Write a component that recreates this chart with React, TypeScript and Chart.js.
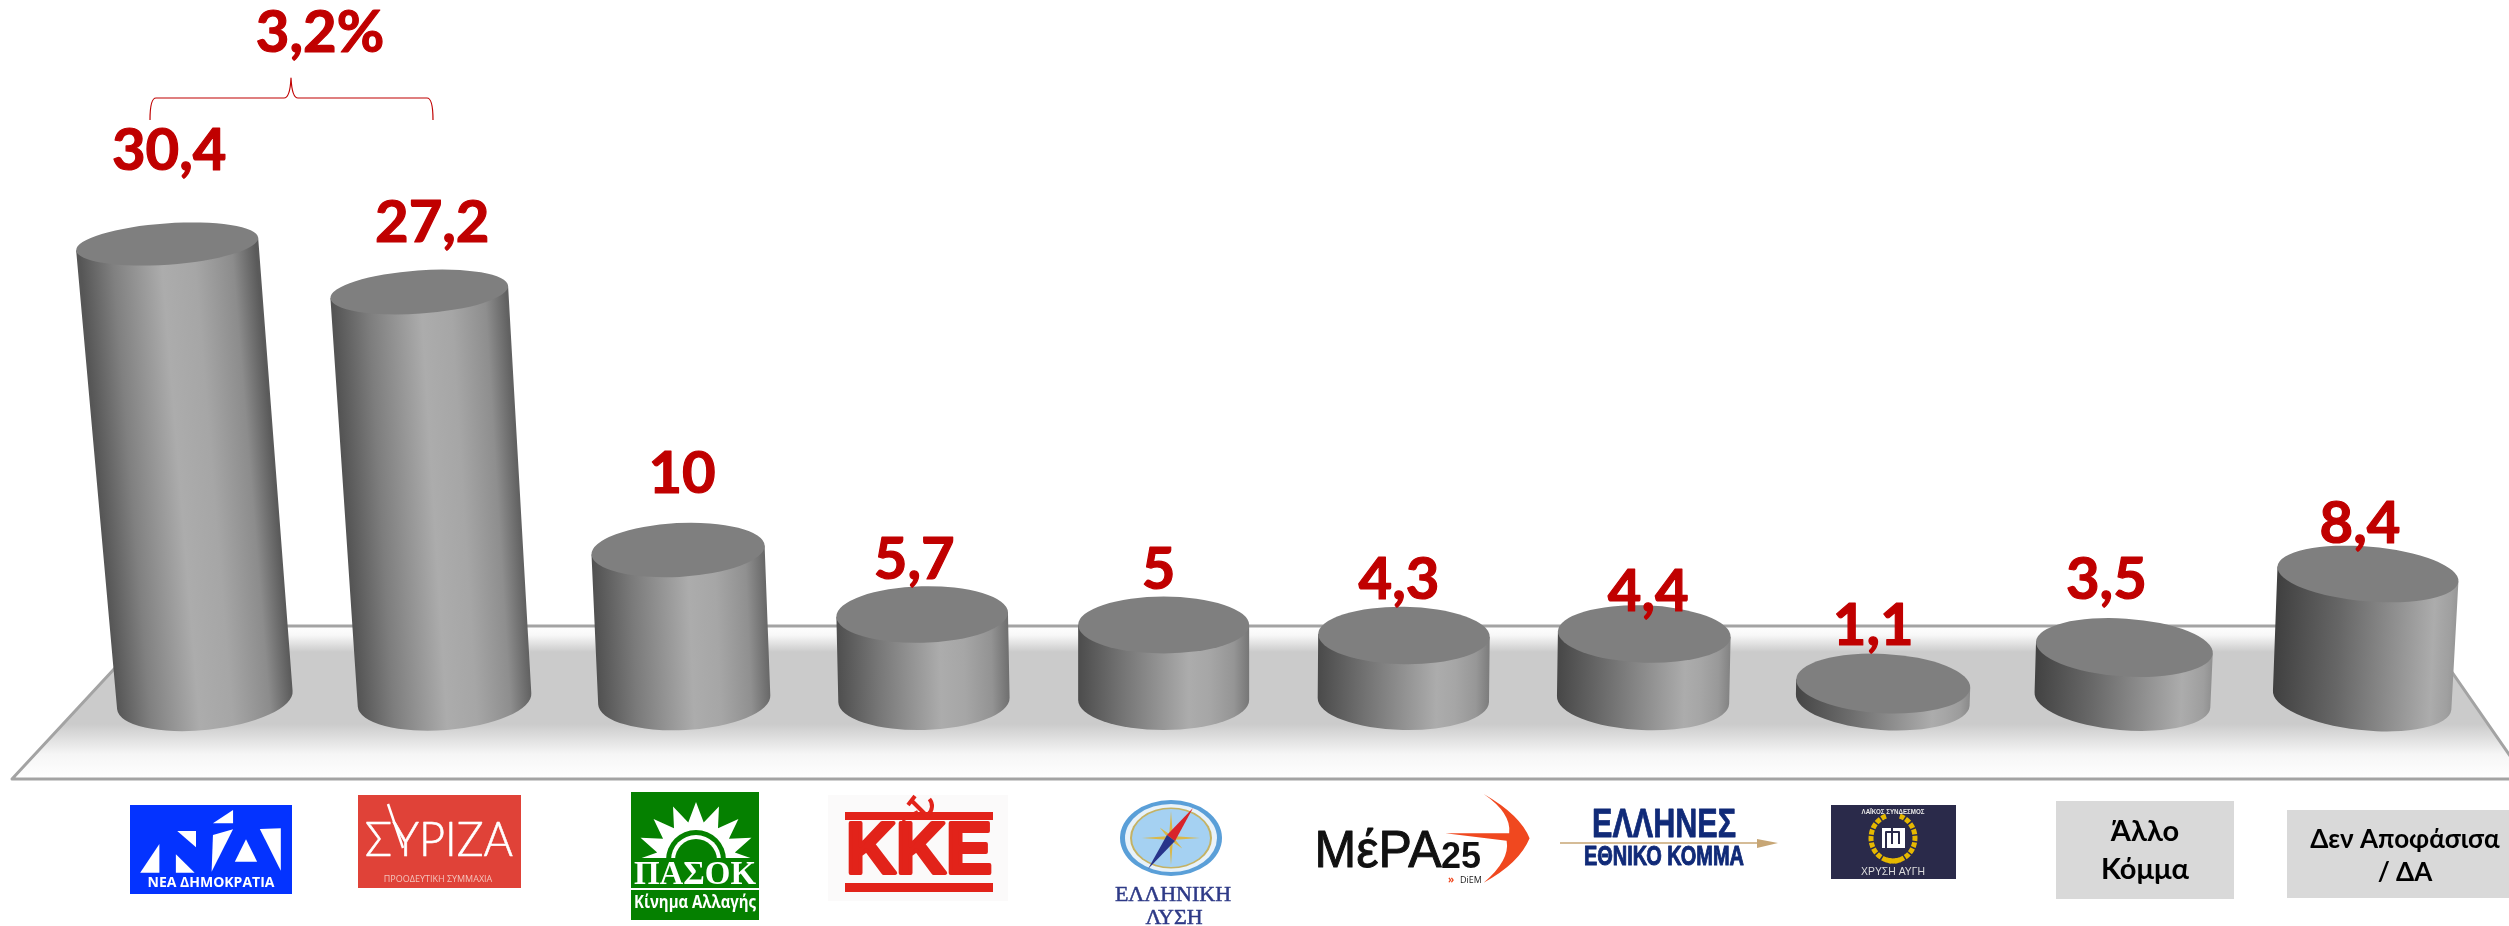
import React, { useEffect, useRef } from "react";
import { Chart, registerables } from "chart.js";

Chart.register(...registerables);

const categories = ["ΝΕΑ ΔΗΜΟΚΡΑΤΙΑ", "ΣΥΡΙΖΑ", "ΠΑΣΟΚ", "ΚΚΕ", "ΕΛΛΗΝΙΚΗ ΛΥΣΗ", "ΜέΡΑ25", "ΕΛΛΗΝΕΣ", "ΧΡΥΣΗ ΑΥΓΗ", "Άλλο Κόμμα", "Δεν Αποφάσισα / ΔΑ"];
const seriesValues = [30.4, 27.2, 10, 5.7, 5, 4.3, 4.4, 1.1, 3.5, 8.4];
const valueLabels = ["30,4", "27,2", "10", "5,7", "5", "4,3", "4,4", "1,1", "3,5", "8,4"];
const gapLabel = "3,2%";

const RED = "#C00000";
const LABEL_FONT = "bold 58px Lato";
// Hand placement of the value labels, relative to the top of each bar.
const labelNudgeX = [2, 13, 4, -8, -5, -5, 4, -10, -18, -8];
const labelNudgeY = [-93, -69, -76, -54, -55, -55, -42, -57, -67, -50];

type Ctx = CanvasRenderingContext2D;

function poly(ctx: Ctx, color: string, pts: number[][]) {
  ctx.fillStyle = color;
  ctx.beginPath();
  pts.forEach((p, i) => (i ? ctx.lineTo(p[0], p[1]) : ctx.moveTo(p[0], p[1])));
  ctx.closePath();
  ctx.fill();
}

function text(ctx: Ctx, s: string, x: number, y: number, font: string, color: string, maxW?: number, heavy = 0) {
  ctx.font = font;
  ctx.fillStyle = color;
  ctx.textAlign = "center";
  ctx.textBaseline = "middle";
  if (maxW) ctx.fillText(s, x, y, maxW);
  else ctx.fillText(s, x, y);
  if (heavy) {
    ctx.strokeStyle = color;
    ctx.lineWidth = heavy;
    ctx.lineJoin = "round";
    if (maxW) ctx.strokeText(s, x, y, maxW);
    else ctx.strokeText(s, x, y);
  }
}

function mix(a: number, b: number, t: number) {
  const v = Math.round(a + (b - a) * t);
  return `rgb(${v},${v},${v})`;
}

function drawCylinder(ctx: Ctx, bx: number, by: number, ty: number, t: number, centerX: number) {
  const h = by - ty;
  const off = bx - centerX;
  const lean = off < 0 ? off / 11600 : off / 26000;
  const tx = bx + lean * h;
  const d = off / centerX;
  const rxB = 85.5 + 4 * d * d;
  const rxT = rxB + 0.008 * h * Math.abs(d);
  const ryB = 30;
  const ryT = 30 - 0.0205 * h;
  const rad = Math.PI / 180;
  const tiltB = (off < 0 ? off / 160 : off / 190) * rad;
  const tiltT = Math.max(-4, off / (off < 0 ? 160 : 250)) * rad;

  const lx = bx - rxB * Math.cos(tiltB), ly = by - rxB * Math.sin(tiltB);
  const rx = tx + rxT * Math.cos(tiltT), ry = ty + rxT * Math.sin(tiltT);
  const tlx = tx - rxT * Math.cos(tiltT), tly = ty - rxT * Math.sin(tiltT);

  ctx.save();
  ctx.beginPath();
  ctx.moveTo(tlx, tly);
  ctx.lineTo(lx, ly);
  ctx.ellipse(bx, by, rxB, ryB, tiltB, Math.PI, 0, true);
  ctx.lineTo(rx, ry);
  ctx.closePath();
  // shear the shading so that its bands follow the lean of the column
  ctx.transform(1, 0, -lean, 1, lean * by, 0);
  const g = ctx.createLinearGradient(bx - rxB, 0, bx + rxB, 0);
  const peak = 0.46 + 0.42 * t;
  g.addColorStop(0, mix(0x56, 0x40, t));
  g.addColorStop(peak * 0.4, mix(0x80, 0x66, t));
  g.addColorStop(peak, "rgb(172,172,172)");
  g.addColorStop(peak + (1 - peak) * 0.35, mix(0xa6, 0xa6, t));
  g.addColorStop(peak + (1 - peak) * 0.75, mix(0x8c, 0xa0, t));
  g.addColorStop(1, mix(0x5a, 0x98, t));
  ctx.fillStyle = g;
  ctx.fill();
  ctx.restore();

  ctx.fillStyle = "#7f7f7f";
  ctx.beginPath();
  ctx.ellipse(tx, ty, rxT, ryT, tiltT, 0, Math.PI * 2);
  ctx.fill();
  return tx;
}

function drawPlatform(ctx: Ctx) {
  const top = 626, bottom = 779;
  ctx.save();
  const g = ctx.createLinearGradient(0, top, 0, bottom);
  g.addColorStop(0, "#ffffff");
  g.addColorStop(0.06, "#f8f8f8");
  g.addColorStop(0.17, "#cbcbcb");
  g.addColorStop(0.64, "#cbcbcb");
  g.addColorStop(0.84, "#f6f6f6");
  g.addColorStop(1, "#ffffff");
  ctx.beginPath();
  ctx.moveTo(12, bottom);
  ctx.lineTo(154, top);
  ctx.lineTo(2420, top);
  ctx.lineTo(2526, bottom);
  ctx.closePath();
  ctx.fillStyle = g;
  ctx.fill();
  ctx.strokeStyle = "#a3a3a3";
  ctx.lineWidth = 3;
  ctx.lineJoin = "round";
  ctx.stroke();
  ctx.restore();
}

function drawBracket(ctx: Ctx) {
  ctx.save();
  ctx.strokeStyle = RED;
  ctx.lineWidth = 1.2;
  ctx.beginPath();
  ctx.moveTo(150, 120);
  ctx.quadraticCurveTo(150, 98, 156, 98);
  ctx.lineTo(284, 98);
  ctx.quadraticCurveTo(290, 98, 291, 78);
  ctx.quadraticCurveTo(292, 98, 298, 98);
  ctx.lineTo(427, 98);
  ctx.quadraticCurveTo(433, 98, 433, 120);
  ctx.stroke();
  ctx.restore();
  text(ctx, gapLabel, 320, 33, LABEL_FONT, RED, undefined, 1.2);
}

function logoND(ctx: Ctx) {
  const X = (x: number) => 100 + x / 2.24, Y = (y: number) => 770 + y / 3;
  ctx.fillStyle = "#0433ff";
  ctx.fillRect(130, 805, 162, 89);
  const tris = [
    [[133, 222], [133, 308], [90, 308]],
    [[170, 253], [212, 308], [170, 308]],
    [[173, 183], [215, 183], [215, 232]],
    [[298, 120], [298, 160], [253, 160]],
    [[298, 178], [250, 305], [253, 195]],
    [[327, 208], [352, 275], [302, 275]],
    [[358, 177], [405, 175], [405, 302]],
  ];
  tris.forEach((t) => poly(ctx, "#ffffff", t.map((p) => [X(p[0]), Y(p[1])])));
  text(ctx, "ΝΕΑ ΔΗΜΟΚΡΑΤΙΑ", 211, 883, "bold 14px 'Open Sans'", "#ffffff", 146);
}

function logoSyriza(ctx: Ctx) {
  ctx.fillStyle = "#e04238";
  ctx.fillRect(358, 795, 163, 93);
  text(ctx, "ΣΥΡΙΖΑ", 439, 841, "300 47px Lato", "#ffffff", 148, 0.6);
  ctx.strokeStyle = "#ffffff";
  ctx.lineWidth = 2.5;
  ctx.beginPath();
  ctx.moveTo(388, 804);
  ctx.lineTo(403, 848);
  ctx.stroke();
  text(ctx, "ΠΡΟΟΔΕΥΤΙΚΗ ΣΥΜΜΑΧΙΑ", 438, 879, "9px 'Open Sans'", "#f3c4bd", 114);
}

function logoPasok(ctx: Ctx) {
  ctx.fillStyle = "#058000";
  ctx.fillRect(631, 792, 128, 128);
  const cx = 696, cy = 860;
  const pts: number[][] = [];
  const spikes = 8;
  for (let i = 0; i <= spikes * 2; i++) {
    const a = Math.PI - (Math.PI * i) / (spikes * 2);
    const r = i % 2 === 0 ? 1 : 0.66;
    pts.push([cx + 60 * r * Math.cos(a), cy - 58 * r * Math.sin(a)]);
  }
  poly(ctx, "#ffffff", pts);
  const halfDisc = (r: number, c: string) => {
    ctx.fillStyle = c;
    ctx.beginPath();
    ctx.arc(cx, cy, r, Math.PI, 0);
    ctx.closePath();
    ctx.fill();
  };
  halfDisc(30, "#058000");
  halfDisc(25, "#ffffff");
  halfDisc(21, "#058000");
  ctx.fillStyle = "#058000";
  ctx.fillRect(631, 858, 128, 5);
  text(ctx, "ΠΑΣΟΚ", 695, 875, "bold 33px 'Liberation Serif'", "#ffffff", 122);
  ctx.fillStyle = "#ffffff";
  ctx.fillRect(631, 888, 128, 2);
  text(ctx, "Κίνημα Αλλαγής", 695, 903, "bold 17px 'Open Sans'", "#ffffff", 122);
}

function logoKKE(ctx: Ctx) {
  const c = "#e2231a";
  ctx.fillStyle = "#fbfafa";
  ctx.fillRect(828, 795, 180, 106);
  ctx.fillStyle = c;
  ctx.fillRect(845, 812, 148, 8);
  ctx.fillRect(845, 883, 148, 9);
  text(ctx, "ΚΚΕ", 919, 853, "bold 72px 'Liberation Sans'", c, 146, 4);
  ctx.strokeStyle = c;
  ctx.lineWidth = 4;
  ctx.beginPath();
  ctx.arc(921, 806, 11, -0.7, 2.3);
  ctx.stroke();
  ctx.beginPath();
  ctx.moveTo(929, 818);
  ctx.lineTo(912, 801);
  ctx.moveTo(915, 796);
  ctx.lineTo(908, 805);
  ctx.moveTo(918, 812);
  ctx.lineTo(902, 820);
  ctx.stroke();
}

function logoLysi(ctx: Ctx) {
  const cx = 1171, cy = 838;
  const oval = (rx: number, ry: number, c: string) => {
    ctx.fillStyle = c;
    ctx.beginPath();
    ctx.ellipse(cx, cy, rx, ry, 0, 0, Math.PI * 2);
    ctx.fill();
  };
  oval(51, 38, "#5a9fd8");
  oval(46, 34, "#e8f2fa");
  oval(41, 30.5, "#c4b264");
  oval(39, 29, "#a5d1f2");
  const star: number[][] = [];
  for (let i = 0; i < 16; i++) {
    const a = (i * Math.PI) / 8;
    const r = i % 4 === 0 ? 1 : i % 2 === 0 ? 0.55 : 0.16;
    star.push([cx + 29 * r * Math.cos(a), cy + 27 * r * Math.sin(a)]);
  }
  poly(ctx, "#d9b84a", star);
  poly(ctx, "#d8232a", [[1193, 808], [1167, 835], [1175, 841]]);
  poly(ctx, "#27348b", [[1148, 869], [1167, 835], [1175, 841]]);
  text(ctx, "ΕΛΛΗΝΙΚΗ", 1173, 895, "22px 'Liberation Serif'", "#2e3a87", 140, 0.5);
  text(ctx, "ΛΥΣΗ", 1174, 918, "22px 'Liberation Serif'", "#2e3a87", 84, 0.5);
}

function logoMera(ctx: Ctx) {
  const X = (x: number) => 800 + x / 1.96, Y = (y: number) => 770 + y / 3;
  ctx.fillStyle = "#f0481f";
  ctx.beginPath();
  ctx.moveTo(X(1340), Y(72));
  ctx.quadraticCurveTo(X(1412), Y(135), X(1430), Y(205));
  ctx.quadraticCurveTo(X(1410), Y(280), X(1340), Y(338));
  ctx.quadraticCurveTo(X(1392), Y(270), X(1385), Y(212));
  ctx.lineTo(X(1265), Y(190));
  ctx.lineTo(X(1390), Y(190));
  ctx.quadraticCurveTo(X(1395), Y(130), X(1340), Y(72));
  ctx.fill();
  text(ctx, "ΜέΡΑ", 1378, 853, "52px 'Liberation Sans'", "#111111", 127, 1);
  text(ctx, "25", 1461, 858, "bold 36px 'Liberation Sans'", "#111111", 42);
  text(ctx, "DiEM", 1471, 880, "9px 'Open Sans'", "#222222", 26);
  text(ctx, "»", 1451, 880, "bold 10px 'Open Sans'", "#f0481f");
}

function logoEllines(ctx: Ctx) {
  const c = "#102a78";
  text(ctx, "ΕΛΛΗΝΕΣ", 1664, 826, "bold 40px 'Liberation Sans'", c, 144, 0.8);
  ctx.strokeStyle = "#c7a675";
  ctx.lineWidth = 1.5;
  ctx.beginPath();
  ctx.moveTo(1560, 843);
  ctx.lineTo(1770, 843);
  ctx.stroke();
  poly(ctx, "#c7a675", [[1757, 839], [1778, 843], [1757, 848]]);
  text(ctx, "ΕΘΝΙΚΟ ΚΟΜΜΑ", 1664, 858, "bold 27px 'Liberation Sans'", c, 160, 1);
}

function logoDawn(ctx: Ctx) {
  const cx = 1893, cy = 838;
  ctx.fillStyle = "#2a2a4a";
  ctx.fillRect(1831, 805, 125, 74);
  text(ctx, "ΛΑΪΚΟΣ ΣΥΝΔΕΣΜΟΣ", cx, 812, "bold 7px 'Liberation Sans'", "#e8e8e8", 63);
  ctx.strokeStyle = "#e6b800";
  ctx.lineWidth = 5;
  ctx.setLineDash([5, 1.5]);
  ctx.beginPath();
  ctx.ellipse(cx, cy, 22, 23, 0, Math.PI * 0.4, Math.PI * 1.4);
  ctx.stroke();
  ctx.beginPath();
  ctx.ellipse(cx, cy, 22, 23, 0, Math.PI * 1.6, Math.PI * 0.6 + Math.PI * 2);
  ctx.stroke();
  ctx.setLineDash([]);
  ctx.fillStyle = "#ffffff";
  ctx.fillRect(1882, 828, 23, 20);
  ctx.strokeStyle = "#2a2a4a";
  ctx.lineWidth = 2;
  ctx.beginPath();
  ctx.moveTo(1886, 848);
  ctx.lineTo(1886, 832);
  ctx.lineTo(1899, 832);
  ctx.lineTo(1899, 844);
  ctx.moveTo(1892, 828);
  ctx.lineTo(1892, 844);
  ctx.stroke();
  text(ctx, "ΧΡΥΣΗ ΑΥΓΗ", cx, 872, "11px 'Liberation Sans'", "#dcdcdc", 64);
}

function textBox(ctx: Ctx, x: number, y: number, w: number, h: number, lines: string[], ys: number[], size: number, cx: number) {
  ctx.fillStyle = "#d9d9d9";
  ctx.fillRect(x, y, w, h);
  lines.forEach((l, i) => text(ctx, l, cx, ys[i], `bold ${size}px Lato`, "#000000"));
}

const cylinderPlugin = {
  id: "cylinders",
  beforeDatasetsDraw(chart: Chart) {
    drawPlatform(chart.ctx);
  },
  afterDatasetsDraw(chart: Chart) {
    const ctx = chart.ctx;
    const meta = chart.getDatasetMeta(0);
    const centerX = chart.scales.x.getPixelForValue(4);
    const base = chart.scales.y.getPixelForValue(0);
    const tops: number[] = [];
    meta.data.forEach((el: any, i: number) => {
      tops.push(drawCylinder(ctx, el.x, base, el.y, i / (meta.data.length - 1), centerX));
    });
    meta.data.forEach((el: any, i: number) => {
      text(ctx, valueLabels[i], tops[i] + labelNudgeX[i], el.y + labelNudgeY[i], LABEL_FONT, RED, undefined, 1.2);
    });
    drawBracket(ctx);
    logoND(ctx);
    logoSyriza(ctx);
    logoPasok(ctx);
    logoKKE(ctx);
    logoLysi(ctx);
    logoMera(ctx);
    logoEllines(ctx);
    logoDawn(ctx);
    textBox(ctx, 2056, 801, 178, 98, ["Άλλο", "Κόμμα"], [832, 870], 29, 2145);
    textBox(ctx, 2287, 810, 222, 88, ["Δεν Αποφάσισα", "/ ΔΑ"], [840, 873], 26, 2405);
  },
};

export default function App() {
  const ref = useRef<HTMLCanvasElement | null>(null);
  useEffect(() => {
    document.body.style.margin = "0";
    if (!ref.current) return;
    const chart = new Chart(ref.current, {
      type: "bar",
      data: {
        labels: categories,
        datasets: [{ data: seriesValues, backgroundColor: "rgba(0,0,0,0)", borderWidth: 0 }],
      },
      options: {
        animation: false,
        responsive: false,
        layout: { padding: { left: 85, right: 27, top: 0, bottom: 226 } },
        plugins: { legend: { display: false }, tooltip: { enabled: false } },
        scales: {
          x: { display: false, grid: { display: false } },
          y: { display: false, min: 0, max: 46.67, grid: { display: false } },
        },
      },
      plugins: [cylinderPlugin],
    } as any);
    return () => chart.destroy();
  }, []);
  return <canvas ref={ref} width={2509} height={926} style={{ display: "block" }} />;
}
